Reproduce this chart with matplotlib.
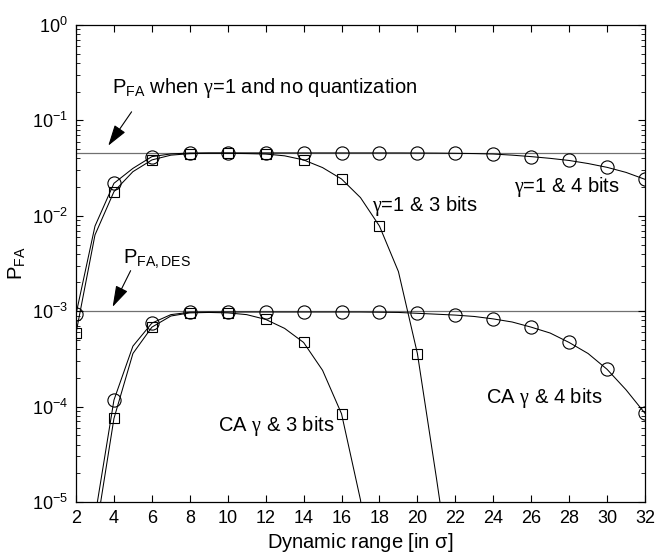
import numpy as np
import matplotlib
matplotlib.use('Agg')
import matplotlib.pyplot as plt

plt.rcParams['font.family'] = ['Liberation Sans', 'DejaVu Sans']
plt.rcParams['mathtext.fontset'] = 'custom'
plt.rcParams['mathtext.rm'] = 'Liberation Sans'
plt.rcParams['mathtext.sf'] = 'Liberation Sans'
plt.rcParams['mathtext.it'] = 'Liberation Serif'

nan = np.nan

# dynamic range in units of sigma
dyn_range = np.arange(2, 33)

# gamma = 1, 4-bit quantization
pfa_g1_4b = [9.3e-4, 7.8e-3, 0.0219, 0.0314, 0.0417, 0.0445, 0.0455, 0.0456,
             0.0456, 0.0456, 0.0456, 0.0456, 0.0456, 0.0456, 0.0456, 0.0456,
             0.0456, 0.0456, 0.0455, 0.0454, 0.0452, 0.0449, 0.0444, 0.0432,
             0.0417, 0.0400, 0.0380, 0.0353, 0.0322, 0.0285, 0.0241]
# gamma = 1, 3-bit quantization
pfa_g1_3b = [5.9e-4, 6.3e-3, 0.0179, 0.0290, 0.0385, 0.0432, 0.0448, 0.0452,
             0.0452, 0.0449, 0.0444, 0.0425, 0.0385, 0.0320, 0.0243, 0.0155,
             7.8e-3, 2.6e-3, 3.6e-4, 1.8e-5, 8e-7, nan, nan, nan,
             nan, nan, nan, nan, nan, nan, nan]
# CA gamma, 4-bit quantization
pfa_ca_4b = [nan, 7e-6, 1.17e-4, 4.3e-4, 7.5e-4, 9.2e-4, 9.75e-4, 9.8e-4,
             9.8e-4, 9.8e-4, 9.8e-4, 9.8e-4, 9.8e-4, 9.8e-4, 9.8e-4, 9.8e-4,
             9.75e-4, 9.7e-4, 9.5e-4, 9.3e-4, 9.1e-4, 8.8e-4, 8.3e-4, 7.7e-4,
             6.8e-4, 5.9e-4, 4.7e-4, 3.6e-4, 2.46e-4, 1.5e-4, 8.5e-5]
# CA gamma, 3-bit quantization
pfa_ca_3b = [nan, 4.2e-6, 7.5e-5, 3.6e-4, 6.8e-4, 8.9e-4, 9.6e-4, 9.7e-4,
             9.6e-4, 9.2e-4, 8.2e-4, 6.6e-4, 4.7e-4, 2.4e-4, 8.4e-5, 1.05e-5,
             3e-7, nan, nan, nan, nan, nan, nan, nan,
             nan, nan, nan, nan, nan, nan, nan]

pfa_unquant = 0.0456   # gamma = 1, no quantization
pfa_des = 1.0e-3       # design false alarm rate

fig = plt.figure(figsize=(6.57, 5.54), dpi=100)
ax = fig.add_axes([0.1157, 0.0939, 0.866, 0.861])

ax.axhline(pfa_unquant, color='#707070', lw=0.9, zorder=1)
ax.axhline(pfa_des, color='#707070', lw=0.9, zorder=1)

line_kw = dict(color='black', lw=0.75, markevery=2, mfc='none', mec='black', mew=0.8)
ax.plot(dyn_range, pfa_g1_4b, marker='o', ms=9.5, **line_kw)
ax.plot(dyn_range, pfa_g1_3b, marker='s', ms=7, **line_kw)
ax.plot(dyn_range, pfa_ca_4b, marker='o', ms=9.5, **line_kw)
ax.plot(dyn_range, pfa_ca_3b, marker='s', ms=7, **line_kw)

ax.set_yscale('log')
ax.set_xlim(2, 32)
ax.set_ylim(1e-5, 1)
ax.set_xticks(np.arange(2, 33, 2))
ax.tick_params(which='both', direction='in', top=True, right=True, labelsize=13)
ax.tick_params(which='major', length=5, pad=6)
ax.tick_params(which='minor', length=3)
for s in ax.spines.values():
    s.set_linewidth(0.9)

ax.set_xlabel(r'Dynamic range [in $\mathrm{\sigma}$]', fontsize=14.5, labelpad=3)
ax.set_ylabel(r'P$_{\mathrm{FA}}$', fontsize=14.5, labelpad=3)

# annotations
arrow_kw = dict(arrowstyle='-|>,head_length=0.65,head_width=0.2', color='black',
                lw=0.8, mutation_scale=20, shrinkA=0, shrinkB=0)
ax.text(3.9, 0.194, r'P$_{\mathrm{FA}}$ when $\gamma$=1 and no quantization', fontsize=14.5)
ax.annotate('', xy=(3.7, 0.0543), xytext=(4.93, 0.123), arrowprops=arrow_kw)
ax.text(4.47, 3.2e-3, r'P$_{\mathrm{FA,DES}}$', fontsize=14.5)
ax.annotate('', xy=(3.93, 1.11e-3), xytext=(4.88, 2.66e-3), arrowprops=arrow_kw)
ax.text(17.6, 0.0112, r'$\gamma$=1 & 3 bits', fontsize=14.5)
ax.text(25.1, 0.0179, r'$\gamma$=1 & 4 bits', fontsize=14.5)
ax.text(9.47, 5.5e-5, r'CA $\gamma$ & 3 bits', fontsize=14.5)
ax.text(23.6, 1.08e-4, r'CA $\gamma$ & 4 bits', fontsize=14.5)

fig.savefig('out.png', dpi=100, facecolor='white')
